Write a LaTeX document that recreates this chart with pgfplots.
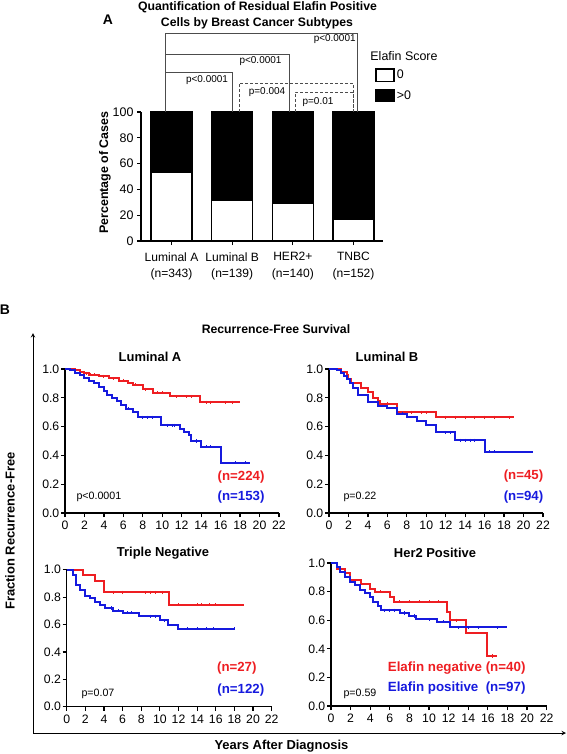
\documentclass[border=0pt]{standalone}
\usepackage{fontspec}
\setmainfont{Liberation Sans}
\usepackage{pgfplots}
\pgfplotsset{compat=1.18}
\definecolor{kmred}{RGB}{238,30,34}
\definecolor{kmblue}{RGB}{22,26,222}
\newcommand{\fs}[1]{\fontsize{#1}{#1}\selectfont}
\pgfplotsset{
 kmaxis/.style={
  scale only axis, clip=false,
  xmin=0,xmax=22,ymin=0,ymax=1,
  axis x line*=bottom, axis y line*=left,
  axis line style={-, line width=1.3bp},
  xtick={0,2,...,22}, ytick={0,0.2,0.4,0.6,0.8,1.0},
  tick align=outside, major tick length=4bp,
  tick style={black, line width=1.2bp},
  tick label style={font=\fs{12.3}},
  /pgf/number format/assume math mode=true,
  yticklabel style={/pgf/number format/fixed, /pgf/number format/fixed zerofill, /pgf/number format/precision=1, /tikz/inner sep=1.5bp},
  xticklabel style={/tikz/inner sep=1.5bp, /tikz/yshift=-2.5bp},
 },
 redc/.style={const plot, color=kmred, line width=2bp, mark=none},
 bluec/.style={const plot, color=kmblue, line width=2bp, mark=none},
 redm/.style={only marks, color=kmred, mark=|, mark size=1.6bp, mark options={line width=0.9bp}},
 bluem/.style={only marks, color=kmblue, mark=|, mark size=1.6bp, mark options={line width=0.9bp}},
}
\begin{document}
\begin{tikzpicture}
\path[use as bounding box] (0,0) rectangle (567bp,-754bp);

% ---------------- Panel A ----------------
\node[font=\bfseries\fs{12.3}] at (257.5bp,-7bp) {Quantification of Residual Elafin Positive};
\node[font=\bfseries\fs{12.3}] at (257bp,-23bp) {Cells by Breast Cancer Subtypes};
\node[font=\bfseries\fs{14}] at (108bp,-20bp) {A};

\begin{axis}[
 at={(141bp,-241bp)}, anchor=south west, scale only axis,
 width=242bp, height=129bp,
 xmin=-0.503, xmax=3.486, ymin=0, ymax=100,
 ybar stacked, bar width=41bp,
 axis x line*=bottom, axis y line*=left,
 axis line style={-, line width=1.3bp},
 xtick={0,1,2,3},
 xticklabels={{Luminal A\\(n=343)},{Luminal B\\(n=139)},{HER2+\\(n=140)},{TNBC\\(n=152)}},
 x tick label style={align=center, font=\fontsize{12.1}{16.5}\selectfont, yshift=-4bp},
 ytick={0,20,40,60,80,100},
 y tick label style={font=\fs{12.5}},
 /pgf/number format/assume math mode=true,
 tick align=outside, major tick length=4bp,
 tick style={black, line width=1.2bp},
 ylabel={\bfseries Percentage of Cases},
 ylabel style={font=\fs{12.5}, at={(axis description cs:-0.149,0.53)}, anchor=center},
 clip=false,
 legend style={at={(0.967,1.341)}, anchor=north west, draw=none, fill=none,
   inner sep=0pt, row sep=6bp, font=\fs{12.5},
   /tikz/every even column/.append style={column sep=4bp}},
 legend cell align=left,
]
\addplot[fill=white, draw=black, line width=1.4bp,
  legend image code/.code={\draw[fill=white,draw=black,line width=1.6bp] (0bp,-6bp) rectangle (18bp,6bp);}]
  coordinates {(0,53) (1,31.5) (2,29.5) (3,17)};
\addlegendentry{0}
\addplot[fill=black, draw=black, line width=1.4bp,
  legend image code/.code={\draw[fill=black,draw=black,line width=1.6bp] (0bp,-6bp) rectangle (18bp,6bp);}]
  coordinates {(0,47) (1,68.5) (2,70.5) (3,83)};
\addlegendentry{>0}
\end{axis}
\node[font=\fs{12.5}] at (404bp,-56bp) {Elafin Score};

% brackets
\begin{scope}[draw=black!70, line width=0.9bp]
\draw (165bp,-112bp) -- (165bp,-33bp) -- (357bp,-33bp) -- (357bp,-112bp);
\draw (165bp,-112bp) -- (165bp,-54bp) -- (289bp,-54bp) -- (289bp,-112bp);
\draw (165bp,-112bp) -- (165bp,-72bp) -- (232bp,-72bp) -- (232bp,-112bp);
\draw[dash pattern=on 3bp off 2bp] (239bp,-112bp) -- (239bp,-83bp) -- (353bp,-83bp) -- (353bp,-112bp);
\draw[dash pattern=on 3bp off 2bp] (295bp,-112bp) -- (295bp,-92bp) -- (353bp,-92bp) -- (353bp,-112bp);
\end{scope}
\begin{scope}[font=\fs{10}]
\node at (334.7bp,-39.5bp) {p<0.0001};
\node at (260.5bp,-61.5bp) {p<0.0001};
\node at (207bp,-80bp) {p<0.0001};
\node at (267bp,-92.5bp) {p=0.004};
\node at (318bp,-102bp) {p=0.01};
\end{scope}

% ---------------- Panel B ----------------
\node[font=\bfseries\fs{14}] at (5bp,-310bp) {B};
\node[font=\bfseries\fs{12.3}] at (276bp,-329bp) {Recurrence-Free Survival};
\draw[line width=1bp, -stealth] (33bp,-733bp) -- (33bp,-333bp);
\draw[line width=1bp, -stealth] (33bp,-733bp) -- (566bp,-733bp);
\node[font=\bfseries\fs{13}, rotate=90] at (10bp,-531bp) {Fraction Recurrence-Free};
\node[font=\bfseries\fs{13}] at (281.5bp,-746bp) {Years After Diagnosis};

% Luminal A
\begin{axis}[kmaxis, at={(65bp,-513bp)}, anchor=south west, width=214bp, height=144bp]
\addplot[redc] coordinates {(0,1) (1,0.99) (1.5,0.98) (2,0.97) (2.5,0.96) (3.5,0.95) (4.5,0.935) (5.5,0.92) (6.5,0.905) (7,0.89) (8,0.86) (9,0.835) (10.8,0.81) (13.9,0.77) (18,0.77)};
\addplot[bluec] coordinates {(0,1) (0.5,0.99) (1,0.97) (1.5,0.955) (2,0.94) (2.5,0.92) (3,0.9) (3.5,0.875) (4,0.85) (4.3,0.82) (4.8,0.8) (5.3,0.775) (5.8,0.75) (6.3,0.725) (7,0.70) (7.5,0.665) (9.9,0.61) (11.8,0.585) (12.2,0.56) (12.7,0.54) (13,0.50) (14,0.46) (16,0.35) (19,0.35)};
\addplot[redm] coordinates {(2.2,0.97) (2.6,0.96) (3.0,0.96) (4,0.95) (5,0.935) (6,0.92) (7.2,0.89) (8.3,0.86) (9.5,0.835) (10,0.835) (11.5,0.81) (12.5,0.81) (13,0.81) (14.5,0.77) (15,0.77) (16.5,0.77) (17.2,0.77)};
\addplot[bluem] coordinates {(6.5,0.725) (8,0.665) (8.5,0.665) (9,0.665) (10.5,0.61) (11,0.61) (11.3,0.61) (13.5,0.50) (14.5,0.46) (15,0.46) (17.5,0.35) (18.5,0.35)};
\end{axis}
\node[font=\bfseries\fs{13}] at (150bp,-357bp) {Luminal A};
\node[font=\bfseries\fs{13.3}, text=kmred, anchor=east] at (268bp,-476.7bp) {(n=224)};
\node[font=\bfseries\fs{13.3}, text=kmblue, anchor=east] at (268bp,-497bp) {(n=153)};
\node[font=\fs{10.7}, anchor=west] at (73bp,-497bp) {p<0.0001};

% Luminal B
\begin{axis}[kmaxis, at={(329bp,-513bp)}, anchor=south west, width=214bp, height=144bp]
\addplot[redc] coordinates {(0,1) (1.2,0.98) (1.8,0.96) (2,0.93) (2.3,0.9) (3.3,0.87) (4,0.84) (4.5,0.80) (5,0.78) (5.2,0.76) (7,0.70) (11,0.665) (19,0.665)};
\addplot[bluec] coordinates {(0,1) (0.8,0.99) (1.2,0.97) (1.5,0.95) (1.8,0.93) (2.2,0.9) (2.5,0.87) (3,0.82) (4,0.77) (5,0.745) (6,0.73) (7,0.69) (8,0.67) (9,0.64) (10,0.61) (11,0.56) (13,0.505) (16,0.425) (21,0.425)};
\addplot[redm] coordinates {(6,0.76) (8.5,0.70) (9.5,0.70) (10,0.70) (12,0.665) (13,0.665) (14,0.665) (15,0.665) (16,0.665) (17,0.665) (18.5,0.665)};
\addplot[bluem] coordinates {(7.5,0.69) (12,0.56) (12.5,0.56) (13.5,0.505) (14,0.505) (14.5,0.505) (15,0.505) (16.5,0.425) (17,0.425)};
\end{axis}
\node[font=\bfseries\fs{13}] at (387bp,-357bp) {Luminal B};
\node[font=\bfseries\fs{13.3}, text=kmred, anchor=east] at (546.7bp,-475.7bp) {(n=45)};
\node[font=\bfseries\fs{13.3}, text=kmblue, anchor=east] at (546.7bp,-496.7bp) {(n=94)};
\node[font=\fs{10.7}, anchor=west] at (340bp,-496.7bp) {p=0.22};

% Triple Negative
\begin{axis}[kmaxis, at={(66.7bp,-706.7bp)}, anchor=south west, width=205bp, height=137bp]
\addplot[redc] coordinates {(0,1) (1.8,0.96) (3,0.917) (4,0.835) (11,0.745) (19,0.745)};
\addplot[bluec] coordinates {(0,1) (0.7,0.96) (1,0.89) (1.4,0.855) (2,0.81) (2.5,0.79) (3,0.765) (3.6,0.74) (4.1,0.72) (5,0.70) (6,0.685) (7.8,0.66) (10,0.63) (10.9,0.60) (11.9,0.57) (18.1,0.57)};
\addplot[redm] coordinates {(5,0.835) (6,0.835) (8.5,0.835) (9,0.835) (9.5,0.835) (10.3,0.835) (12,0.745) (14,0.745) (14.5,0.745) (15.3,0.745) (16,0.745)};
\addplot[bluem] coordinates {(4.8,0.72) (5.5,0.70) (6.5,0.685) (7,0.685) (9,0.66) (9.5,0.66) (10.5,0.63) (13,0.57) (14,0.57) (15,0.57) (15.8,0.57) (18,0.57)};
\end{axis}
\node[font=\bfseries\fs{13}] at (163bp,-553bp) {Triple Negative};
\node[font=\bfseries\fs{13.3}, text=kmred, anchor=east] at (260bp,-668.3bp) {(n=27)};
\node[font=\bfseries\fs{13.3}, text=kmblue, anchor=east] at (267.7bp,-690bp) {(n=122)};
\node[font=\fs{10.7}, anchor=west] at (78bp,-694bp) {p=0.07};

% Her2 Positive
\begin{axis}[kmaxis, at={(331bp,-706bp)}, anchor=south west, width=215.7bp, height=143bp]
\addplot[redc] coordinates {(0,1) (0.6,0.96) (1.4,0.93) (1.9,0.88) (3.1,0.855) (4,0.82) (4.5,0.80) (6,0.765) (6.4,0.73) (11.8,0.66) (12.1,0.60) (13.8,0.51) (15.9,0.35) (16.9,0.35)};
\addplot[bluec] coordinates {(0,1) (0.6,0.97) (0.9,0.94) (1.4,0.90) (1.9,0.87) (2.4,0.845) (3,0.81) (3.5,0.79) (4,0.76) (4.3,0.73) (4.8,0.70) (5.1,0.67) (7,0.65) (8,0.63) (8.7,0.605) (10.8,0.59) (12.1,0.55) (18,0.55)};
\addplot[redm] coordinates {(5,0.80) (7,0.73) (8,0.73) (9,0.73) (10,0.73) (11,0.73) (12.8,0.60) (16.5,0.35)};
\addplot[bluem] coordinates {(5.5,0.67) (6,0.67) (6.5,0.67) (7.5,0.65) (8.5,0.63) (10,0.605) (11.5,0.59) (13,0.55) (14,0.55) (15,0.55) (17,0.55)};
\end{axis}
\node[font=\bfseries\fs{13}] at (435bp,-553bp) {Her2 Positive};
\node[font=\bfseries\fs{13.4}, text=kmred, anchor=east] at (529bp,-667.7bp) {Elafin negative (n=40)};
\node[font=\bfseries\fs{13.4}, text=kmblue, anchor=east] at (529bp,-688bp) {Elafin positive\ \ (n=97)};
\node[font=\fs{10.7}, anchor=west] at (340bp,-694bp) {p=0.59};

\end{tikzpicture}
\end{document}
